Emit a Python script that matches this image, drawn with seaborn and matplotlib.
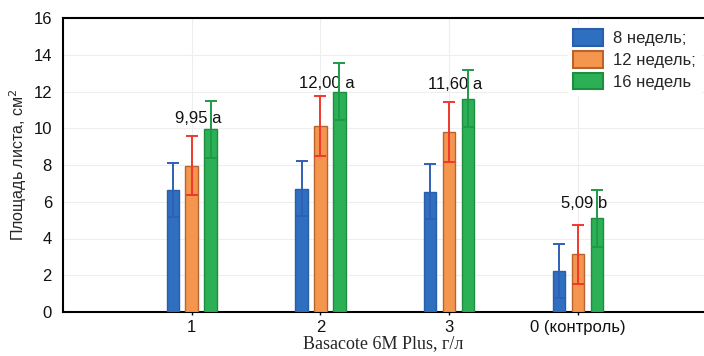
import numpy as np
import pandas as pd
import matplotlib
matplotlib.use("Agg")
import matplotlib.pyplot as plt
import seaborn as sns

categories = ["1", "2", "3", "0 (контроль)"]
weeks = ["8 недель;", "12 недель;", "16 недель"]
mean_8 = [6.65, 6.72, 6.55, 2.25]
mean_12 = [7.97, 10.12, 9.80, 3.13]
mean_16 = [9.95, 12.00, 11.60, 5.09]
err_8 = [1.47, 1.50, 1.50, 1.47]
err_12 = [1.62, 1.62, 1.62, 1.60]
err_16 = [1.55, 1.55, 1.55, 1.53]
labels_16 = ["9,95 a", "12,00 a", "11,60 a", "5,09 b"]
label_y = [10.55, 12.45, 12.4, 5.93]

fill_colors = ["#2f6fbf", "#f5964f", "#2bb056"]
edge_colors = ["#2a5ea8", "#b8642e", "#1f8d40"]
err_colors = ["#2f5fb6", "#f0382a", "#1f9a48"]

df = pd.DataFrame({
    "cat": categories * 3,
    "week": [w for w in weeks for _ in categories],
    "val": mean_8 + mean_12 + mean_16,
})
errs = [err_8, err_12, err_16]

sns.set_theme(style="white")
plt.rcParams["font.family"] = ["Liberation Sans", "DejaVu Sans"]

fig = plt.figure(figsize=(7.04, 3.56), dpi=100)
ax = fig.add_axes([63 / 704, 44 / 356, 1 - 63 / 704, (312 - 18) / 356])

sns.barplot(data=df, x="cat", y="val", hue="week", order=categories,
            hue_order=weeks, palette=fill_colors, saturation=1, width=0.44,
            gap=0.34, errorbar=None, ax=ax, zorder=3, legend=True)

bar_containers = list(ax.containers)
for i, cont in enumerate(bar_containers):
    xs = []
    vals = []
    for bar in cont:
        bar.set_edgecolor(edge_colors[i])
        bar.set_linewidth(1.0)
        xs.append(bar.get_x() + bar.get_width() / 2)
        vals.append(bar.get_height())
    ax.errorbar(xs, vals, yerr=errs[i], fmt="none", ecolor=err_colors[i],
                elinewidth=1.4, capsize=4.5, capthick=1.4, zorder=5)

for j, (t, yy) in enumerate(zip(labels_16, label_y)):
    ax.text(j + 0.05, yy, t, ha="center", va="center", fontsize=12,
            color="#111111", zorder=4)

ax.set_xlim(-1.0, 3.98)
ax.set_ylim(0, 16)
ax.set_yticks(np.arange(0, 17, 2))
ax.grid(True, axis="both", color="#eeeeee", linewidth=0.8, zorder=0)
ax.set_axisbelow(True)

for s in ["left", "bottom", "top"]:
    ax.spines[s].set_color("black")
    ax.spines[s].set_linewidth(1.5)
ax.spines["right"].set_visible(False)

ax.tick_params(axis="y", labelsize=12, length=0, pad=8, colors="black")
ax.tick_params(axis="x", labelsize=12, direction="inout", length=4,
               width=1, bottom=True, pad=4, colors="black")
for lab in ax.get_xticklabels() + ax.get_yticklabels():
    lab.set_color("#111111")

ax.set_xlabel("Basacote 6M Plus, г/л", family=["Liberation Serif", "DejaVu Serif"],
              fontsize=13, labelpad=0)
ax.set_ylabel("Площадь листа, см$^2$", fontsize=11.5, labelpad=3)

leg = ax.legend(loc="upper right", bbox_to_anchor=(0.998, 0.985), frameon=True,
                fontsize=12, handlelength=1.8, handleheight=1.15,
                handletextpad=0.6, labelspacing=0.3, borderaxespad=0.1,
                borderpad=0.3, title=None)
leg.get_frame().set_facecolor("white")
leg.get_frame().set_edgecolor("white")
leg.get_frame().set_alpha(1)
for h, ec in zip(leg.legend_handles, edge_colors):
    h.set_edgecolor(ec)
    h.set_linewidth(1.5)

fig.savefig("out.png", dpi=100)
